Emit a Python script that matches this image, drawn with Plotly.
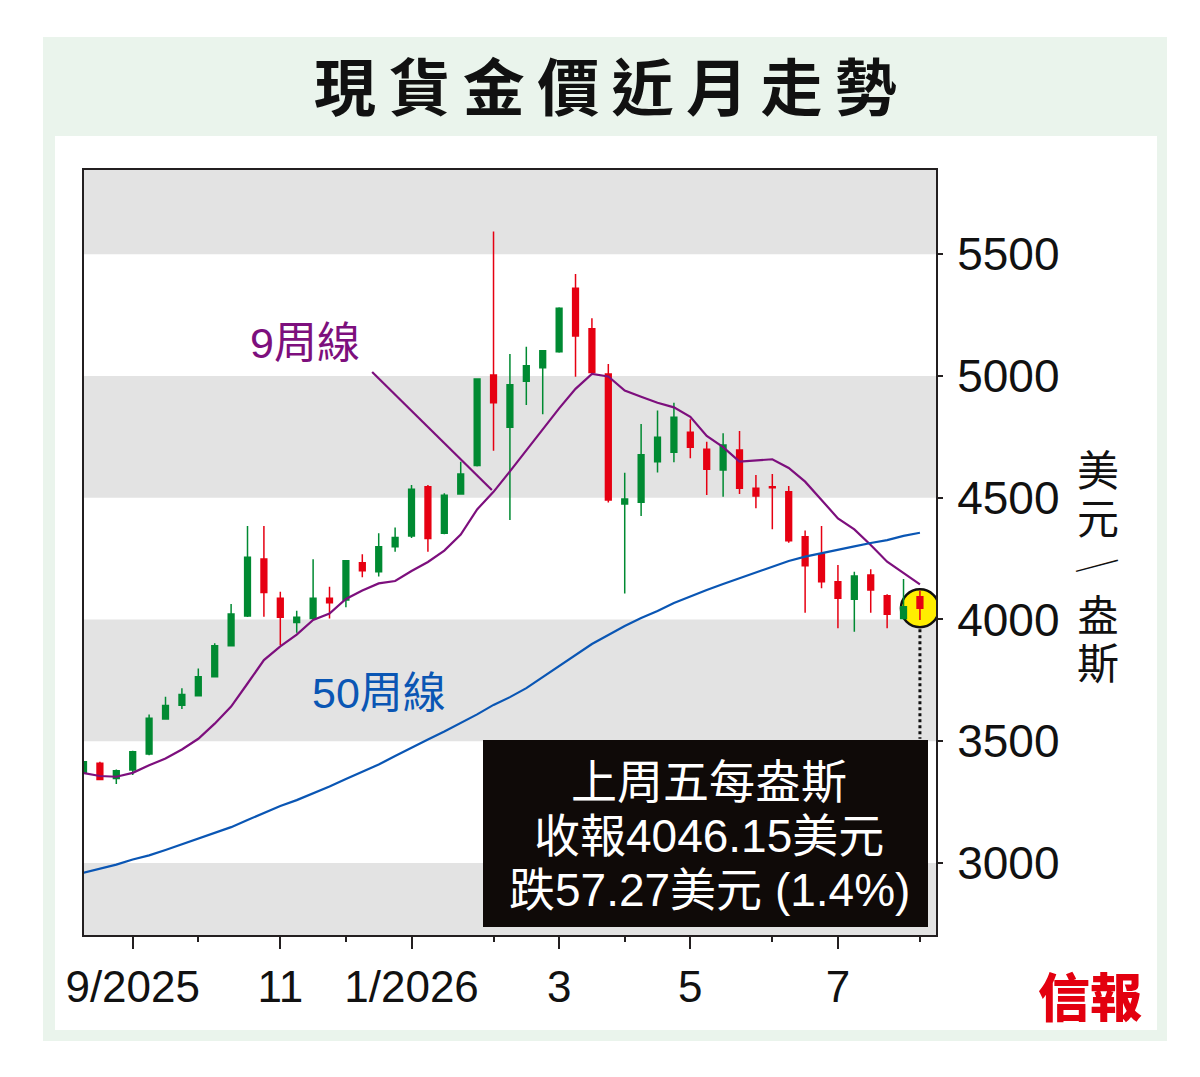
import plotly.graph_objects as go

# ---- data (weekly candles) -------------------------------------------------
weeks = list(range(52))

opens = [3370, 3409, 3347, 3382, 3447, 3591, 3648, 3687, 3765, 3892,
         4014, 4248, 4087, 3987, 4004, 4087, 4080, 4233, 4196, 4299,
         4343, 4545, 4354, 4515, 4632, 5004, 4789, 4978, 5034, 5100,
         5360, 5194, 5008, 4474, 4481, 4648, 4687, 4769, 4699, 4614,
         4696, 4539, 4545, 4525, 4340, 4269, 4155, 4083, 4183, 4097,
         4004, 4093]
highs = [3418, 3416, 3384, 3461, 3610, 3683, 3717, 3799, 3902, 4063,
         4384, 4384, 4114, 4036, 4247, 4134, 4244, 4268, 4354, 4378,
         4552, 4552, 4518, 4648, 4991, 5593, 5090, 5120, 5107, 5282,
         5419, 5237, 5049, 4603, 4803, 4858, 4890, 4822, 4730, 4765,
         4774, 4593, 4597, 4548, 4365, 4384, 4224, 4196, 4206, 4104,
         4166, 4118]
lows = [3368, 3340, 3324, 3361, 3442, 3588, 3632, 3684, 3762, 3889,
        4010, 4011, 3895, 3945, 4000, 4004, 4050, 4173, 4176, 4278,
        4335, 4278, 4350, 4512, 4628, 4693, 4408, 4881, 4843, 5095,
        4997, 5010, 4480, 4107, 4425, 4604, 4646, 4662, 4511, 4504,
        4515, 4457, 4370, 4315, 4028, 4128, 3964, 3950, 4028, 3964,
        4000, 3998]
closes = [3416, 3343, 3379, 3457, 3594, 3647, 3692, 3765, 3892, 4022,
          4255, 4111, 4009, 4009, 4087, 4069, 4241, 4200, 4299, 4337,
          4535, 4333, 4510, 4597, 4988, 4890, 4964, 5042, 5104, 5278,
          5164, 5014, 4491, 4495, 4676, 4748, 4830, 4707, 4617, 4717,
          4539, 4507, 4541, 4323, 4221, 4155, 4087, 4178, 4121, 4021,
          4052, 4046.15]

ma9 = [3369, 3357, 3354, 3370, 3401, 3429, 3466, 3510, 3572, 3642,
       3737, 3833, 3889, 3938, 3998, 4024, 4084, 4119, 4148, 4158,
       4199, 4236, 4283, 4349, 4452, 4524, 4608, 4694, 4785, 4867,
       4947, 5008, 4998, 4940, 4915, 4890, 4871, 4832, 4754, 4708,
       4648, 4652, 4658, 4622, 4566, 4491, 4415, 4370, 4306, 4237,
       4192, 4144]
ma50 = [2960, 2975, 2993, 3014, 3031, 3053, 3076, 3098, 3121, 3147,
        3176, 3205, 3234, 3258, 3285, 3314, 3345, 3373, 3404, 3439,
        3474, 3507, 3540, 3575, 3610, 3649, 3681, 3718, 3764, 3809,
        3854, 3899, 3936, 3973, 4006, 4035, 4068, 4096, 4121, 4146,
        4170, 4195, 4217, 4240, 4258, 4273, 4285, 4300, 4314, 4326,
        4343, 4356]

month_major_pos = [3, 12, 20, 29, 37, 46]
month_major_text = ["9/2025", "11", "1/2026", "3", "5", "7"]
month_minor_pos = [7, 16, 25, 33, 42, 51]
price_ticks = [3000, 3500, 4000, 4500, 5000, 5500]
y_range = [2704, 5846]
grey_bands = [(y_range[0], 3000), (3500, 4000), (4500, 5000), (5500, y_range[1])]

title_text = "現貨金價近月走勢"
box_lines = ["上周五每盎斯", "收報4046.15美元", "跌57.27美元 (1.4%)"]
unit_chars = ["美", "元", "／", "盎", "斯"]

# ---- styling ---------------------------------------------------------------
GREEN = "#008a32"
RED = "#e60012"
PURPLE = "#7d0f7d"
BLUE = "#0a56b4"
BAND = "#e3e3e3"
REG = "Liberation Sans, Arial, Noto Sans CJK TC, sans-serif"
CJK = "Noto Sans CJK TC, sans-serif"

# page has an 8px body margin, so the figure is laid out 8px smaller
W, H = 1192, 1069
L, R, T, B = 84, 936, 170, 935   # plot area in page pixels
OFF = 8


def px(x):
    return (x - L) / (R - L)


def py(y):
    return (B - y) / (B - T)


fig = go.Figure()

fig.add_trace(go.Candlestick(
    x=weeks, open=opens, high=highs, low=lows, close=closes,
    increasing=dict(line=dict(color=GREEN, width=1.5), fillcolor=GREEN),
    decreasing=dict(line=dict(color=RED, width=1.5), fillcolor=RED),
    whiskerwidth=0, showlegend=False, hoverinfo="skip",
))
fig.add_trace(go.Scatter(x=weeks, y=ma9, mode="lines",
                         line=dict(color=PURPLE, width=2.2), showlegend=False))
fig.add_trace(go.Scatter(x=weeks, y=ma50, mode="lines",
                         line=dict(color=BLUE, width=2.2), showlegend=False))

shapes = []
# outer green frame + white card
shapes.append(dict(type="rect", xref="paper", yref="paper", layer="below",
                   x0=px(43), x1=px(1167), y0=py(1041), y1=py(37),
                   fillcolor="#eaf4ec", line_width=0))
shapes.append(dict(type="rect", xref="paper", yref="paper", layer="below",
                   x0=px(55), x1=px(1157), y0=py(1030), y1=py(136),
                   fillcolor="white", line_width=0))
# grey price bands
for lo, hi in grey_bands:
    shapes.append(dict(type="rect", xref="x domain", yref="y", layer="below",
                       x0=0, x1=1, y0=lo, y1=hi, fillcolor=BAND, line_width=0))
# highlight on last close
shapes.append(dict(type="circle", xref="x", yref="y", layer="below",
                   xsizemode="pixel", ysizemode="pixel",
                   xanchor=weeks[-1], yanchor=closes[-1],
                   x0=-19, x1=19, y0=-19, y1=19,
                   fillcolor="#ffee00", line=dict(color="#111", width=2.5)))
# dotted drop line to the info box
shapes.append(dict(type="line", xref="x", yref="y", layer="above",
                   x0=weeks[-1], x1=weeks[-1], y0=3960, y1=3510,
                   line=dict(color="#111", width=3, dash="dot")))
# leader line for the 9-week label
shapes.append(dict(type="line", xref="x", yref="y", layer="above",
                   x0=17.6, y0=5016, x1=24.9, y1=4532,
                   line=dict(color=PURPLE, width=2.2)))
# black info box
shapes.append(dict(type="rect", xref="paper", yref="paper", layer="above",
                   x0=px(483), x1=px(928), y0=py(927), y1=py(740),
                   fillcolor="#0f0a08", line_width=0))


def note(text, x, y, font, data=False, **kw):
    return dict(text=text, xref="x" if data else "paper",
                yref="y" if data else "paper", x=x, y=y, showarrow=False,
                xanchor="center", yanchor="middle", font=font, **kw)


annotations = [
    note("<b>" + "\u2009".join(title_text) + "</b>", px(605), py(84),
         dict(family=CJK, size=62, color="#111")),
    note("9周線", 13.5, 5136, dict(family=REG, size=43, color=PURPLE), data=True),
    note("50周線", 18.0, 3698, dict(family=REG, size=43, color=BLUE), data=True),
    note("信報", px(1090), py(994),
         dict(family=CJK, size=52, color="#e3000f", weight=900)),
]
for i, line in enumerate(box_lines):
    annotations.append(note(line, px(709), py(782 + 54 * i),
                            dict(family=REG, size=46, color="white")))
for i, ch in enumerate(unit_chars):
    slash = ch == "／"
    annotations.append(note(ch, px(1098), py(468 + 48 * i),
                            dict(family=CJK, size=34 if slash else 42, color="#111"),
                            textangle=30 if slash else 0))

fig.update_layout(
    width=W, height=H,
    margin=dict(l=L - OFF, r=W - (R - OFF), t=T - OFF, b=H - (B - OFF)),
    paper_bgcolor="white", plot_bgcolor="white",
    boxgap=0.5,
    shapes=shapes, annotations=annotations,
    showlegend=False,
    xaxis=dict(
        range=[0.03, 51.98], rangeslider=dict(visible=False),
        tickmode="array", tickvals=month_major_pos, ticktext=month_major_text,
        ticks="outside", ticklen=12, tickwidth=2, tickcolor="#231f20",
        minor=dict(tickmode="array", tickvals=month_minor_pos, ticks="outside",
                   ticklen=5, tickwidth=2, tickcolor="#231f20"),
        showgrid=False, zeroline=False,
        showline=True, linewidth=2, linecolor="#231f20", mirror=True,
        tickfont=dict(family=REG, size=44, color="#111"),
        ticklabelstandoff=0,
    ),
    yaxis=dict(
        range=y_range, side="right",
        tickmode="array", tickvals=price_ticks,
        ticks="outside", ticklen=5, tickwidth=2, tickcolor="#231f20",
        showgrid=False, zeroline=False,
        showline=True, linewidth=2, linecolor="#231f20", mirror=True,
        tickfont=dict(family=REG, size=46, color="#111"),
        ticklabelstandoff=5,
    ),
)

fig.write_html("out.html")
